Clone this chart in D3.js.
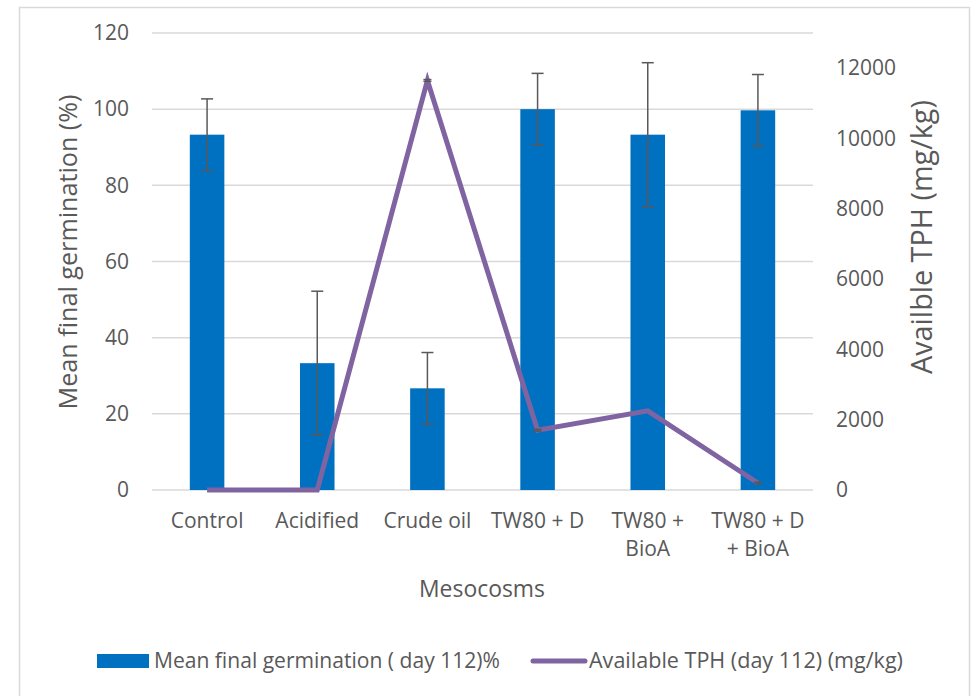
<!DOCTYPE html>
<html>
<head>
<meta charset="utf-8">
<script src="https://cdn.jsdelivr.net/npm/d3@7"></script>
<style>
  body { margin: 0; background: #fff; }
  text { font-family: "Open Sans", sans-serif; fill: #595959; }
</style>
</head>
<body>
<svg id="chart" width="975" height="696"></svg>
<script>
// Mesocosm treatments
const categories = ["Control", "Acidified", "Crude oil", "TW80 + D", "TW80 + BioA", "TW80 + D + BioA"];
// Mean final germination (day 112), % and its error
const germination = [93.3, 33.3, 26.7, 100, 93.3, 99.7];
const germinationErr = [9.4, 18.9, 9.4, 9.4, 18.9, 9.4];
// Available TPH (day 112), mg/kg and its error
const tph = [0, 0, 11650, 1700, 2250, 200];
const tphErr = [0, 0, 25, 25, 0, 25];
// Axis ticks
const leftTicks = [0, 20, 40, 60, 80, 100, 120];
const rightTicks = [0, 2000, 4000, 6000, 8000, 10000, 12000];

const svg = d3.select("#chart");
const plot = { left: 152, right: 813, top: 33, bottom: 490 };
const FONT = "'Open Sans', sans-serif";

// sets a text's font size so that its rendered length is close to `len`
function fitText(sel, len) {
  const base = 20;
  sel.style("font-size", base + "px");
  const w = sel.node().getComputedTextLength();
  sel.style("font-size", (base * len / w).toFixed(2) + "px");
  return sel;
}

// chart frame
svg.append("rect")
  .attr("x", 19.5).attr("y", 7.5).attr("width", 950).attr("height", 700)
  .attr("fill", "none").attr("stroke", "#d9d9d9").attr("stroke-width", 1.5);

const x = d3.scaleBand().domain(categories).range([plot.left, plot.right]).padding(0);
const barW = x.bandwidth() / 3.19;
const cx = d => x(d) + x.bandwidth() / 2;
const yL = d3.scaleLinear().domain([0, 120]).range([plot.bottom, plot.top]);
const yR = d3.scaleLinear().domain([0, 13000]).range([plot.bottom, plot.top]);

// gridlines
svg.append("g").selectAll("line").data(leftTicks).join("line")
  .attr("x1", plot.left).attr("x2", plot.right)
  .attr("y1", d => yL(d)).attr("y2", d => yL(d))
  .attr("stroke", "#d9d9d9").attr("stroke-width", 1.5);

// left axis
const gL = svg.append("g").attr("transform", `translate(${plot.left},0)`)
  .call(d3.axisLeft(yL).tickValues(leftTicks).tickSize(0).tickPadding(23));
gL.select(".domain").remove();
gL.selectAll("text").style("font-size", "21px").style("font-family", FONT).attr("fill", "#595959");

// right axis
const gR = svg.append("g").attr("transform", `translate(${plot.right},0)`)
  .call(d3.axisRight(yR).tickValues(rightTicks).tickFormat(d3.format("d")).tickSize(0).tickPadding(23));
gR.select(".domain").remove();
gR.selectAll("text").style("font-size", "21px").style("font-family", FONT).attr("fill", "#595959");

// category axis with wrapped labels
const gX = svg.append("g").attr("transform", `translate(0,${plot.bottom})`)
  .call(d3.axisBottom(x).tickSize(0).tickPadding(0));
gX.select(".domain").remove();
gX.selectAll("text")
  .style("font-size", "21px").style("font-family", FONT).attr("fill", "#595959")
  .attr("dy", null).attr("y", null)
  .each(function(d) {
    const t = d3.select(this);
    const words = d.split(" ");
    t.text(null);
    const lines = [];
    let cur = [];
    const probe = t.append("tspan");
    words.forEach(w => {
      const trial = cur.concat([w]).join(" ");
      probe.text(trial);
      if (probe.node().getComputedTextLength() > 100 && cur.length) {
        lines.push(cur.join(" "));
        cur = [w];
      } else cur.push(w);
    });
    lines.push(cur.join(" "));
    probe.remove();
    lines.forEach((ln, i) => {
      t.append("tspan").attr("x", 0).attr("y", 38 + i * 28).text(ln);
    });
  });

// bars
svg.append("g").selectAll("rect").data(categories).join("rect")
  .attr("x", d => cx(d) - barW / 2)
  .attr("width", barW)
  .attr("y", (d, i) => yL(germination[i]))
  .attr("height", (d, i) => yL(0) - yL(germination[i]))
  .attr("fill", "#0070C0");

// error bars for germination
const capW = 12;
const eb = svg.append("g").attr("stroke", "#595959").attr("stroke-width", 1.5);
categories.forEach((c, i) => {
  const hi = yL(germination[i] + germinationErr[i]);
  const lo = yL(germination[i] - germinationErr[i]);
  eb.append("line").attr("x1", cx(c)).attr("x2", cx(c)).attr("y1", hi).attr("y2", lo);
  eb.append("line").attr("x1", cx(c) - capW / 2).attr("x2", cx(c) + capW / 2).attr("y1", hi).attr("y2", hi);
  eb.append("line").attr("x1", cx(c) - capW / 2).attr("x2", cx(c) + capW / 2).attr("y1", lo).attr("y2", lo);
});

// TPH line
const line = d3.line().x((d, i) => cx(categories[i])).y(d => yR(d));
svg.append("path").datum(tph)
  .attr("d", line)
  .attr("fill", "none").attr("stroke", "#8064A2").attr("stroke-width", 5)
  .attr("stroke-linejoin", "miter").attr("stroke-linecap", "butt");

// error caps for TPH
const eb2 = svg.append("g").attr("stroke", "#595959").attr("stroke-width", 1.5);
categories.forEach((c, i) => {
  if (!tphErr[i]) return;
  const hi = yR(tph[i] + tphErr[i]);
  const lo = yR(tph[i] - tphErr[i]);
  eb2.append("line").attr("x1", cx(c)).attr("x2", cx(c)).attr("y1", hi).attr("y2", lo);
  [hi, lo].forEach(yy => eb2.append("line")
    .attr("x1", cx(c) - 4).attr("x2", cx(c) + 4).attr("y1", yy).attr("y2", yy));
});

// axis titles
fitText(svg.append("text")
  .attr("transform", "translate(77,252) rotate(-90)")
  .attr("text-anchor", "middle")
  .text("Mean final germination (%)"), 315);
fitText(svg.append("text")
  .attr("transform", "translate(932,237) rotate(-90)")
  .attr("text-anchor", "middle")
  .text("Availble TPH (mg/kg)"), 274);
fitText(svg.append("text")
  .attr("x", 482).attr("y", 597)
  .attr("text-anchor", "middle")
  .text("Mesocosms"), 126);

// legend
const lg = svg.append("g");
lg.append("rect").attr("x", 97).attr("y", 654).attr("width", 52).attr("height", 14).attr("fill", "#0070C0");
fitText(lg.append("text").attr("x", 154).attr("y", 668)
  .text("Mean final germination ( day 112)%"), 346);
lg.append("line").attr("x1", 533).attr("x2", 585).attr("y1", 661).attr("y2", 661)
  .attr("stroke", "#8064A2").attr("stroke-width", 5).attr("stroke-linecap", "round");
fitText(lg.append("text").attr("x", 589).attr("y", 668)
  .text("Available TPH (day 112) (mg/kg)"), 314);
</script>
</body>
</html>
